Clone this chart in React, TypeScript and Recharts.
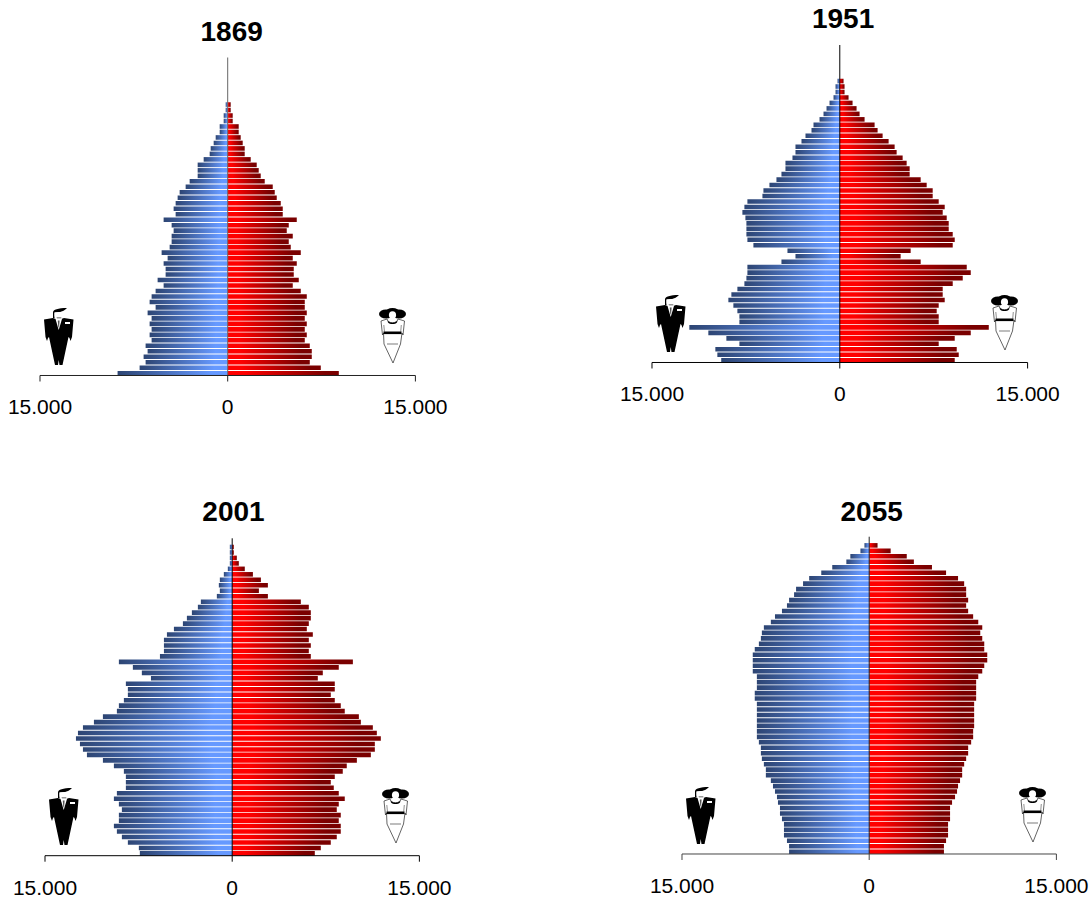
import React from "react";
import { BarChart, Bar, XAxis, YAxis, ReferenceLine } from "recharts";

// Rows run from the youngest (bottom) to the oldest (top).
const males1869 = [8800,7040,6560,6720,6400,6560,6080,6240,6080,6240,6080,6400,5760,6240,6080,5760,5120,5600,4960,4960,5120,4800,5280,4640,4480,4480,4320,4480,5120,4160,4320,4160,4000,3840,3360,3040,2400,2400,2400,1920,1440,1360,1120,960,640,640,320,320,160,160];
const females1869 = [8880,7440,6560,6720,6720,6560,6160,6320,6160,6320,6160,6320,6160,6160,6320,5840,5200,5680,5280,5280,5520,5200,5840,5040,4880,5200,4720,4880,5520,4400,4400,4240,3920,3760,3600,2960,2640,2480,2320,1840,1360,1360,1200,1040,880,880,400,400,240,240];

const males1951 = [9470,9780,9940,8020,9060,10500,12020,8020,8020,8180,8500,8900,8660,8180,7620,7460,7380,7380,4660,3540,4180,6900,7380,7460,7460,7460,7540,7780,7620,7380,6180,6100,5620,5060,4660,4340,4340,3780,3540,3540,3060,2740,2260,2100,1620,1300,1060,820,500,340,340,180];
const females1951 = [9180,9500,9340,7900,9180,10460,11900,7900,7900,7740,7900,8380,8220,8220,9020,9820,10460,10140,6460,4860,5660,9020,9180,9020,8700,8700,8540,8220,8380,7900,7420,7420,6940,6460,5580,5580,5340,5020,4540,4380,3900,3420,3020,2780,1980,1580,1340,1020,700,380,380,300];

const males2001 = [7400,7480,8360,8840,9240,9480,9080,9080,8840,9080,9480,9240,8520,8520,8520,8680,9480,10360,11640,11960,12200,12520,12360,11960,11080,10360,9240,9080,8680,8360,8360,8520,6510,7240,7960,9080,5790,5470,5470,5470,5230,4670,3950,3630,3230,2750,2510,1230,990,1070,990,670,350,190,190,190,190];
const females2001 = [6620,7100,7900,8380,8700,8700,8540,8700,8380,8540,9020,8540,8140,7900,8220,8860,9180,9990,11110,11430,11430,11910,11590,11270,10310,10150,9020,8700,8220,7900,8220,8220,6860,7260,8540,9670,6300,6140,6300,6140,6460,5980,6140,6300,6300,6140,5500,2860,2140,2860,2300,1660,1010,530,370,130,130];

const males2055 = [6420,6420,6590,6830,6830,6830,6990,7150,7150,7310,7390,7550,7710,7880,8280,8280,8440,8600,8680,8680,8840,9000,9000,9000,9000,9000,9000,9000,9170,9170,9000,9000,9000,9330,9330,9330,9330,9170,8840,8680,8600,8440,7880,7550,6990,6590,6420,6020,5860,5300,4810,3840,2960,1830,1510,700,380];
const females2055 = [5990,5990,6160,6320,6320,6320,6480,6480,6480,6640,6880,7040,7120,7280,7450,7450,7610,7770,7930,7930,8170,8330,8330,8410,8410,8410,8410,8410,8570,8570,8570,8570,8740,9060,9220,9460,9460,9220,9220,9060,8900,9060,8740,8330,7930,7770,7930,7770,7770,7610,7120,6160,5030,3580,3010,1720,670];

const ROW_COUNT = 58;
const AXIS_MAX = 15000;
const axisTicks = [-AXIS_MAX, 0, AXIS_MAX];

const buildRows = (m: number[], f: number[]) => {
  const rows: { row: number; male: number | null; female: number | null }[] = [];
  for (let i = ROW_COUNT - 1; i >= 0; i--) {
    rows.push({
      row: i,
      male: i < m.length ? -m[i] : null,
      female: i < f.length ? f[i] : null,
    });
  }
  return rows;
};

const formatTick = (v: number) => (v === 0 ? "0" : "15.000");

const FONT = '"Liberation Sans", Arial, sans-serif';
const M_LEFT = 40;
const M_RIGHT = 34;
const AXIS_H = 43;

type Panel = {
  id: string; title: string; males: number[]; females: number[];
  cx: number; plotW: number; originY: number; plotTop: number; plotBottom: number;
  titleX: number; titleY: number; centerColor: string; baseColor: string;
  man: [number, number]; woman: [number, number];
};

const panels: Panel[] = [
  { id: "a", title: "1869", males: males1869, females: females1869, cx: 228, plotW: 375.4, originY: 0, plotTop: 57.5, plotBottom: 375.5, titleX: 232, titleY: 41.5, centerColor: "#666", baseColor: "#222", man: [44, 308], woman: [379, 308] },
  { id: "b", title: "1951", males: males1951, females: females1951, cx: 839.4, plotW: 375.6, originY: 0, plotTop: 45, plotBottom: 362.5, titleX: 842.7, titleY: 28, centerColor: "#000", baseColor: "#000", man: [655.7, 295], woman: [990.7, 295] },
  { id: "c", title: "2001", males: males2001, females: females2001, cx: 232, plotW: 374.4, originY: 490, plotTop: 538.3, plotBottom: 855.7, titleX: 233.3, titleY: 520.9, centerColor: "#000", baseColor: "#000", man: [49, 788], woman: [381.7, 788] },
  { id: "d", title: "2055", males: males2055, females: females2055, cx: 869.2, plotW: 374.4, originY: 490, plotTop: 536.7, plotBottom: 854, titleX: 871.7, titleY: 520.7, centerColor: "#222", baseColor: "#444", man: [686, 786.5], woman: [1019, 787] },
];

const Man = ({ x, y }: { x: number; y: number }) => (
  <svg width={31} height={58} viewBox="0 0 31 58" style={{ position: "absolute", left: x, top: y }}>
    <path d="M0 11.5 L9 10 L14.5 12 L20 10 L29.5 11.5 L28 29 L26.5 33 L25.5 30 L24.5 29 L18.5 57 L15.5 57 L14.7 52 L14 57 L11 57 L5 29 L4 30 L3 33 L1.5 29 Z" fill="#000" />
    <path d="M11.5 11 L18 11 L14.7 22 Z" fill="#fff" />
    <path d="M13.8 12.5 L15.6 12.5 L15.2 18 L14.7 20 L14.2 18 Z" fill="#555" />
    <rect x={21} y={14} width={5} height={2} fill="#fff" />
    <path d="M9 10 L9 4.5 C9 1.5 14 0 23 0 C21 2.5 18 3.5 16.5 4 L10.5 4.5 L10.5 10 Z" fill="#000" />
    <path d="M10.5 4.5 L20.5 3.5 L20 8 L17 10.5 L13 10.5 L10.5 8.5 Z" fill="#fff" />
    <path d="M12.5 9 L17.5 9 L17 10.5 L13 10.5 Z" fill="#999" />
  </svg>
);

const Woman = ({ x, y }: { x: number; y: number }) => (
  <svg width={28} height={56} viewBox="0 0 28 56" style={{ position: "absolute", left: x, top: y }}>
    <ellipse cx={7} cy={6} rx={7} ry={4.5} fill="#000" />
    <ellipse cx={20} cy={6} rx={7} ry={4.5} fill="#000" />
    <ellipse cx={13.5} cy={4} rx={7} ry={4} fill="#000" />
    <ellipse cx={13.5} cy={7} rx={3.6} ry={3.8} fill="#fff" />
    <path d="M2 13 L8 11 C9 16 18 16 19 11 L25.5 13 L24 27 L23 25 L21.5 36 L14 55 L5 36 L4.5 25 L3.5 27 Z" fill="#fff" stroke="#222" strokeWidth={0.7} />
    <path d="M8 11 C9 16 18 16 19 11 L18 14.5 C16 16.5 11 16.5 9 14.5 Z" fill="#000" />
    <rect x={4.5} y={23.5} width={18} height={2.6} fill="#000" />
    <path d="M8 36 L19 36" stroke="#444" strokeWidth={0.7} fill="none" />
    <path d="M4.8 17 L5.5 24 M22.3 17 L21.7 24" stroke="#444" strokeWidth={0.6} fill="none" />
  </svg>
);

const Pyramid = ({ p }: { p: Panel }) => {
  const plotH = p.plotBottom - p.plotTop;
  const top = p.plotTop - p.originY;
  const left = p.cx - p.plotW / 2 - M_LEFT;
  const height = top + plotH + AXIS_H;
  const data = buildRows(p.males, p.females);
  return (
    <div style={{ position: "absolute", left, top: p.originY, width: M_LEFT + p.plotW + M_RIGHT, height }}>
      <BarChart
        width={M_LEFT + p.plotW + M_RIGHT}
        height={height}
        data={data}
        layout="vertical"
        stackOffset="sign"
        barSize={4.6}
        margin={{ top, bottom: 0, left: M_LEFT, right: M_RIGHT }}
      >
        <defs>
          <linearGradient id={`male-${p.id}`} x1="0" y1="0" x2="1" y2="0">
            <stop offset="0%" stopColor="#2D4573" />
            <stop offset="85%" stopColor="#6699FF" />
            <stop offset="100%" stopColor="#6699FF" />
          </linearGradient>
          <linearGradient id={`female-${p.id}`} x1="0" y1="0" x2="1" y2="0">
            <stop offset="0%" stopColor="#FF0000" />
            <stop offset="15%" stopColor="#FF0000" />
            <stop offset="88%" stopColor="#7A0000" />
            <stop offset="100%" stopColor="#7A0000" />
          </linearGradient>
        </defs>
        <XAxis
          type="number"
          domain={[-AXIS_MAX, AXIS_MAX]}
          ticks={axisTicks}
          tickFormatter={formatTick}
          interval={0}
          tickSize={6}
          tickMargin={18}
          stroke={p.baseColor}
          axisLine={{ stroke: p.baseColor, strokeWidth: 1 }}
          tickLine={{ stroke: p.baseColor, strokeWidth: 1 }}
          tick={{ fill: "#000", fontSize: 21, fontFamily: FONT }}
          height={AXIS_H}
        />
        <YAxis type="category" dataKey="row" hide width={0} padding={{ top: 0.9, bottom: -0.9 }} />
        <Bar dataKey="male" stackId="s" fill={`url(#male-${p.id})`} isAnimationActive={false} />
        <Bar dataKey="female" stackId="s" fill={`url(#female-${p.id})`} isAnimationActive={false} />
        <ReferenceLine x={0} stroke={p.centerColor} strokeWidth={1} />
        <text
          x={p.titleX - left}
          y={p.titleY - p.originY}
          textAnchor="middle"
          fontFamily={FONT}
          fontWeight="bold"
          fontSize={28}
          fill="#000"
        >
          {p.title}
        </text>
      </BarChart>
    </div>
  );
};

export default function App() {
  return (
    <div>
      {panels.map((p) => (
        <React.Fragment key={p.id}>
          <Pyramid p={p} />
          <Man x={p.man[0]} y={p.man[1]} />
          <Woman x={p.woman[0]} y={p.woman[1]} />
        </React.Fragment>
      ))}
    </div>
  );
}
